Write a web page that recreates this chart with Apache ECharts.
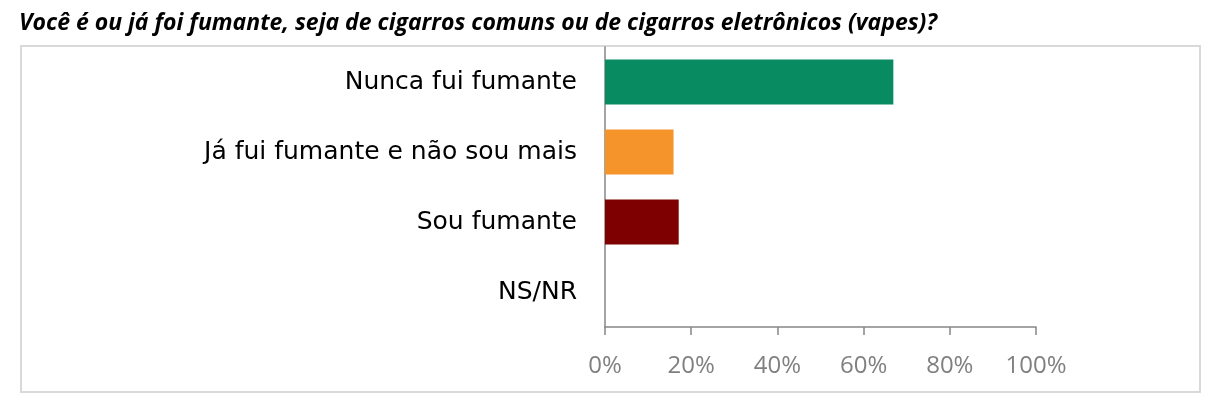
<!DOCTYPE html>
<html>
<head>
<meta charset="utf-8">
<script src="https://cdn.jsdelivr.net/npm/echarts@6/dist/echarts.min.js"></script>
<style>
html,body{margin:0;padding:0;background:#fff;}
#chart{width:1217px;height:411px;}
</style>
</head>
<body>
<div id="chart"></div>
<script>
const titleText = 'Você é ou já foi fumante, seja de cigarros comuns ou de cigarros eletrônicos (vapes)?';
const categories = ['Nunca fui fumante', 'Já fui fumante e não sou mais', 'Sou fumante', 'NS/NR'];
const values = [66.9, 15.9, 17.1, 0];
const barColors = ['#098b61', '#f4942a', '#7f0000', '#cccccc'];
const tickLabels = ['0%', '20%', '40%', '60%', '80%', '100%'];

const chart = echarts.init(document.getElementById('chart'), null, {renderer: 'canvas'});
chart.setOption({
  animation: false,
  backgroundColor: '#ffffff',
  title: {
    text: titleText,
    left: 19,
    top: 12,
    padding: 0,
    textStyle: {
      fontFamily: 'Open Sans',
      fontStyle: 'italic',
      fontWeight: 'bold',
      fontSize: 23,
      color: '#000000'
    }
  },
  graphic: [{
    type: 'rect',
    shape: {x: 21, y: 46, width: 1179, height: 346},
    style: {fill: 'none', stroke: '#d9d9d9', lineWidth: 2},
    silent: true,
    z: -1
  }],
  grid: {left: 605, right: 181, top: 47, bottom: 84, containLabel: false},
  xAxis: {
    type: 'value',
    min: 0,
    max: 100,
    interval: 20,
    splitLine: {show: false},
    axisLine: {show: true, lineStyle: {color: '#868686', width: 1.5}},
    axisTick: {show: true, length: 8, lineStyle: {color: '#868686', width: 1.5}},
    axisLabel: {
      margin: 27,
      fontFamily: 'Open Sans',
      fontSize: 24,
      color: '#808080',
      formatter: function (v) { return tickLabels[Math.round(v / 20)]; }
    }
  },
  yAxis: {
    type: 'category',
    data: categories,
    inverse: true,
    axisLine: {show: true, lineStyle: {color: '#868686', width: 1.5}},
    axisTick: {show: false},
    splitLine: {show: false},
    axisLabel: {
      margin: 28,
      fontFamily: 'DejaVu Sans',
      fontSize: 25,
      color: '#000000'
    }
  },
  series: [{
    type: 'bar',
    data: values.map((v, i) => ({value: v, itemStyle: {color: barColors[i]}})),
    barWidth: 45,
    label: {show: false}
  }]
});
</script>
</body>
</html>
